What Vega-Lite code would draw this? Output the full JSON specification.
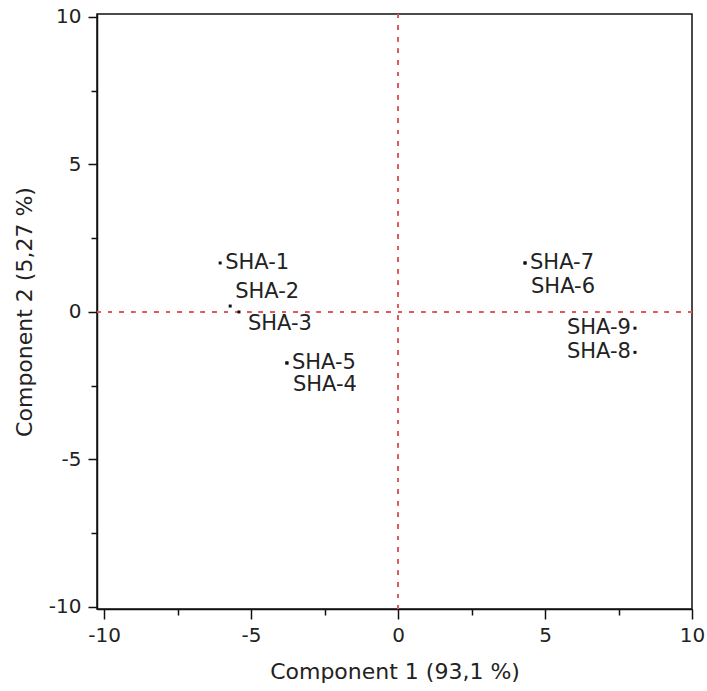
{
  "$schema": "https://vega.github.io/schema/vega-lite/v6.json",
  "width": 595,
  "height": 595,
  "autosize": {"type": "none"},
  "padding": {"left": 97, "top": 14, "right": 15, "bottom": 82},
  "background": "white",
  "config": {
    "view": {"stroke": "#111", "strokeWidth": 1.5},
    "font": "DejaVu Sans",
    "axis": {
      "labelFont": "DejaVu Sans",
      "titleFont": "DejaVu Sans",
      "labelFontSize": 20,
      "titleFontSize": 22,
      "labelColor": "#222",
      "titleColor": "#222",
      "titleFontWeight": "normal",
      "domainColor": "#111",
      "domainWidth": 1.5,
      "tickColor": "#111",
      "tickWidth": 1.5,
      "grid": false
    }
  },
  "data": {
    "values": [
      {"label": "SHA-1", "x": -6.05, "y": 1.66},
      {"label": "SHA-2", "x": -5.71, "y": 0.2},
      {"label": "SHA-3", "x": -5.41, "y": 0.0},
      {"label": "SHA-4", "x": -3.78, "y": -1.73},
      {"label": "SHA-5", "x": -3.78, "y": -1.73},
      {"label": "SHA-6", "x": 4.32, "y": 1.66},
      {"label": "SHA-7", "x": 4.32, "y": 1.66},
      {"label": "SHA-8", "x": 8.06, "y": -1.37},
      {"label": "SHA-9", "x": 8.06, "y": -0.55}
    ]
  },
  "layer": [
    {
      "mark": {"type": "rule", "color": "#e05a5a", "strokeDash": [4, 7.6], "strokeWidth": 1.5},
      "encoding": {
        "x": {
          "datum": 0,
          "type": "quantitative",
          "scale": {"domain": [-10.24, 10], "nice": false, "zero": false},
          "axis": {
            "title": "Component 1  (93,1 %)",
            "values": [-10, -7.5, -5, -2.5, 0, 2.5, 5, 7.5, 10],
            "labelExpr": "datum.value % 5 === 0 ? toString(datum.value) : ''",
            "tickSize": {"condition": {"test": "datum.value % 5 === 0", "value": 10}, "value": 6},
            "labelPadding": 6,
            "titlePadding": 16,
            "labelFlush": false,
            "labelOverlap": false
          }
        }
      }
    },
    {
      "mark": {"type": "rule", "color": "#e05a5a", "strokeDash": [4, 7.6], "strokeWidth": 1.5},
      "encoding": {
        "y": {
          "datum": 0,
          "type": "quantitative",
          "scale": {"domain": [-10.07, 10.1], "nice": false, "zero": false},
          "axis": {
            "title": "Component 2  (5,27 %)",
            "values": [-10, -7.5, -5, -2.5, 0, 2.5, 5, 7.5, 10],
            "labelExpr": "datum.value % 5 === 0 ? toString(datum.value) : ''",
            "tickSize": {"condition": {"test": "datum.value % 5 === 0", "value": 9}, "value": 6},
            "labelPadding": 7,
            "titlePadding": 12,
            "labelFlush": false,
            "labelOverlap": false
          }
        }
      }
    },
    {
      "mark": {"type": "square", "size": 9, "color": "#111", "filled": true, "opacity": 1},
      "encoding": {"x": {"field": "x", "type": "quantitative"}, "y": {"field": "y", "type": "quantitative"}}
    },
    {
      "transform": [{"filter": {"field": "label", "oneOf": ["SHA-1", "SHA-5", "SHA-7"]}}],
      "mark": {"type": "text", "align": "left", "baseline": "middle", "dx": 5, "fontSize": 21, "color": "#222"},
      "encoding": {"x": {"field": "x", "type": "quantitative"}, "y": {"field": "y", "type": "quantitative"}, "text": {"field": "label"}}
    },
    {
      "transform": [{"filter": {"field": "label", "equal": "SHA-4"}}],
      "mark": {"type": "text", "align": "left", "baseline": "middle", "dx": 6, "dy": 22, "fontSize": 21, "color": "#222"},
      "encoding": {"x": {"field": "x", "type": "quantitative"}, "y": {"field": "y", "type": "quantitative"}, "text": {"field": "label"}}
    },
    {
      "transform": [{"filter": {"field": "label", "equal": "SHA-6"}}],
      "mark": {"type": "text", "align": "left", "baseline": "middle", "dx": 6, "dy": 24, "fontSize": 21, "color": "#222"},
      "encoding": {"x": {"field": "x", "type": "quantitative"}, "y": {"field": "y", "type": "quantitative"}, "text": {"field": "label"}}
    },
    {
      "transform": [{"filter": {"field": "label", "equal": "SHA-2"}}],
      "mark": {"type": "text", "align": "left", "baseline": "middle", "dx": 5, "dy": -14, "fontSize": 21, "color": "#222"},
      "encoding": {"x": {"field": "x", "type": "quantitative"}, "y": {"field": "y", "type": "quantitative"}, "text": {"field": "label"}}
    },
    {
      "transform": [{"filter": {"field": "label", "equal": "SHA-3"}}],
      "mark": {"type": "text", "align": "left", "baseline": "middle", "dx": 9, "dy": 12, "fontSize": 21, "color": "#222"},
      "encoding": {"x": {"field": "x", "type": "quantitative"}, "y": {"field": "y", "type": "quantitative"}, "text": {"field": "label"}}
    },
    {
      "transform": [{"filter": {"field": "label", "oneOf": ["SHA-8", "SHA-9"]}}],
      "mark": {"type": "text", "align": "right", "baseline": "middle", "dx": -4, "fontSize": 21, "color": "#222"},
      "encoding": {"x": {"field": "x", "type": "quantitative"}, "y": {"field": "y", "type": "quantitative"}, "text": {"field": "label"}}
    }
  ]
}
